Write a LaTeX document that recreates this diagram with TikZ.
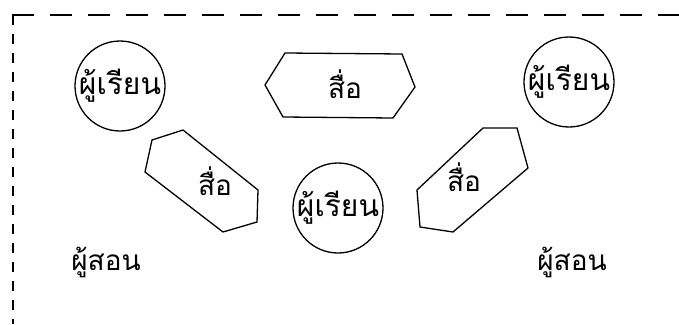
\documentclass[tikz,border=0pt]{standalone}
\usepackage{fontspec}
\usepackage{tikz}
\newfontfamily\thaifont[Script=Thai]{Loma}

\begin{document}
\begin{tikzpicture}[x=1pt, y=-1pt, line width=1.3pt,
    learner/.style={circle, draw, minimum size=90pt, inner sep=0pt},
    word/.style={inner sep=0pt, font=\thaifont\fontsize{28}{32}\selectfont},
    bigword/.style={word, font=\thaifont\fontsize{30}{34}\selectfont}]
    \useasboundingbox (0,0) rectangle (679,324);

    % frame
    \draw[dash pattern=on 22pt off 16pt] (12,15) -- (679,15);
    \draw[dash pattern=on 10pt off 9pt] (13,15) -- (13,324);

    % learners
    \node[learner, label={[bigword]center:ผู้เรียน}] (s1) at (120,86) {};
    \node[learner, label={[bigword]center:ผู้เรียน}] (s2) at (569,82) {};
    \node[learner, label={[bigword]center:ผู้เรียน}] (s3) at (338,208) {};

    % media
    \draw (265,85) -- (285,53) -- (402,54) -- (415,87) -- (393,118) -- (283,117) -- cycle;
    \node[word] (m1) at (345,84) {สื่อ};
    \draw (152,140) -- (183,130) -- (258,190) -- (257,222) -- (223,232) -- (145,172) -- cycle;
    \node[word] (m2) at (215,181) {สื่อ};
    \draw (483,128) -- (517,128) -- (528,168) -- (453,232) -- (420,227) -- (417,190) -- cycle;
    \node[word] (m3) at (464,177) {สื่อ};

    % teachers
    \node[word] (t1) at (106,262) {ผู้สอน};
    \node[word] (t2) at (572,262) {ผู้สอน};
\end{tikzpicture}
\end{document}
